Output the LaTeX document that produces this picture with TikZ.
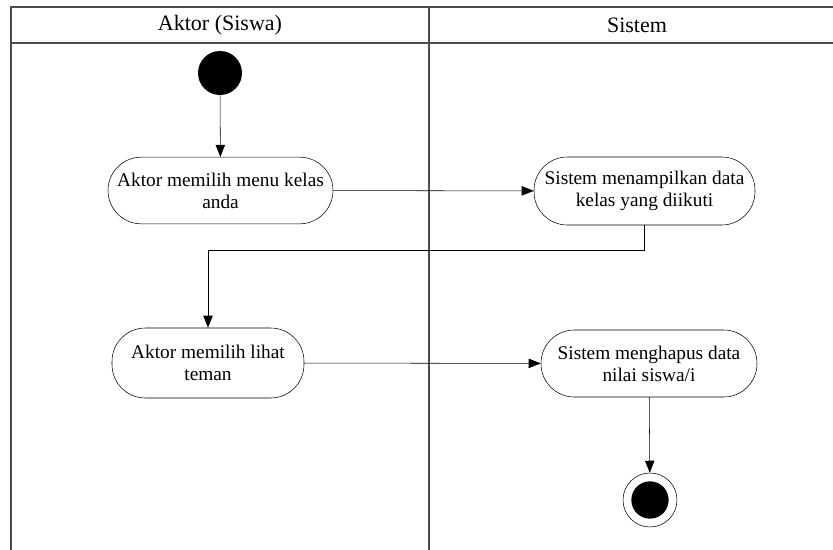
\documentclass[tikz,border=0pt]{standalone}
\usepackage{fontspec}
\setmainfont{Liberation Serif}
\usetikzlibrary{arrows.meta}

\begin{document}
\begin{tikzpicture}[x=0.75pt,y=-0.75pt,
    activity/.style={draw,rectangle,rounded corners=25pt,align=center,font=\fontsize{14.5}{16.5}\selectfont},
    flow/.style={draw,-{Triangle[length=9pt,width=7pt]}},
    lane/.style={draw,line width=0.9pt,gray!60!black},
    lanetitle/.style={font=\fontsize{16.5}{19}\selectfont}]
    \useasboundingbox (0,0) rectangle (833,550);
    % swimlanes
    \draw[lane] (11,550) -- (11,7) -- (840,7);
    \draw[lane] (11,43) -- (840,43);
    \draw[lane] (429,7) -- (429,550);
    \node[lanetitle] (laneA) at (220,25) {Aktor (Siswa)};
    \node[lanetitle] (laneB) at (637,25) {Sistem};
    % states
    \node[circle,fill=black,minimum size=33pt,inner sep=0pt] (start) at (220,73) {};
    \node[activity,minimum width=168.75pt,minimum height=50pt] (pilihKelas) at (220.5,190.5) {Aktor memilih menu kelas\\anda};
    \node[activity,minimum width=165.75pt,minimum height=51pt] (tampilData) at (644.5,191) {Sistem menampilkan data\\kelas yang diikuti};
    \node[activity,minimum width=144pt,minimum height=52.5pt] (lihatTeman) at (208,363) {Aktor memilih lihat\\teman};
    \node[activity,minimum width=162pt,minimum height=50.25pt] (hapusData) at (649,363.5) {Sistem menghapus data\\nilai siswa/i};
    \node[circle,draw,minimum size=40.5pt,inner sep=0pt] (end) at (650,500) {};
    \node[circle,fill=black,minimum size=28pt,inner sep=0pt] (endDot) at (end) {};
    % transitions
    \draw[flow] (start) -- (pilihKelas);
    \draw[flow] (pilihKelas) -- (tampilData);
    \draw[flow] (tampilData.south) -- ++(0,25) -| (lihatTeman.north);
    \draw[flow] (lihatTeman) -- (hapusData);
    \draw[flow] (hapusData) -- (end);
\end{tikzpicture}
\end{document}
